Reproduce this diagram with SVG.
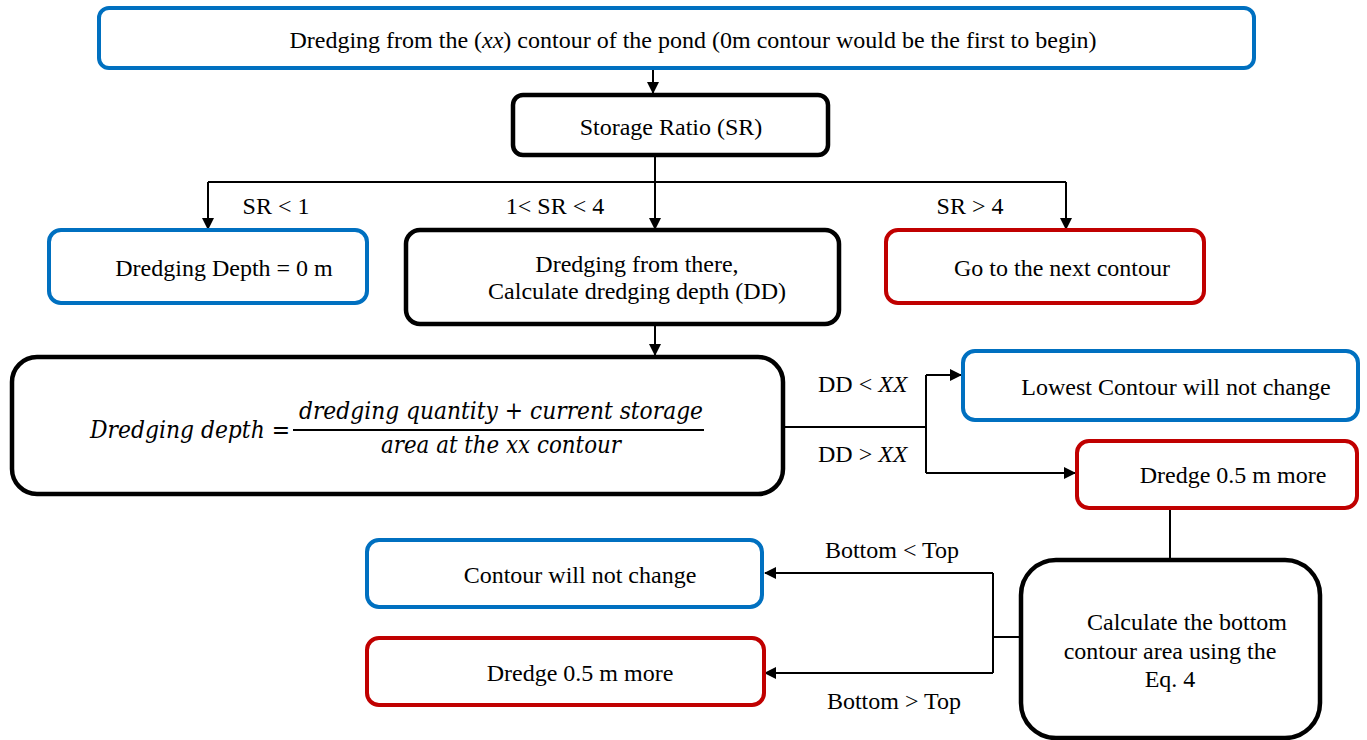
<svg xmlns="http://www.w3.org/2000/svg" width="1367" height="740" viewBox="0 0 1367 740">
<defs>
<marker id="ah" markerWidth="12" markerHeight="12" refX="11" refY="6" orient="auto" markerUnits="userSpaceOnUse">
<path d="M0,0 L12,6 L0,12 Z" fill="#000"/>
</marker>
<style>
.blue{fill:#fff;stroke:#0070C0;stroke-width:4}
.red{fill:#fff;stroke:#C00000;stroke-width:4}
.blk{fill:#fff;stroke:#000;stroke-width:4.5}
.t{font-family:"Liberation Serif","Times New Roman",serif;font-size:24px;fill:#000}
.m{font-family:"DejaVu Serif",serif;font-style:italic;font-size:24px;fill:#000}
.c{fill:none;stroke:#000;stroke-width:2}
.a{fill:none;stroke:#000;stroke-width:2;marker-end:url(#ah)}
</style>
</defs>
<rect width="1367" height="740" fill="#fff"/>
<g id="connectors">
<path class="a" d="M653,68 V93"/>
<path class="c" d="M655,155 V182 M208,182 H1066"/>
<path class="a" d="M208,182 V229"/>
<path class="a" d="M655,182 V229"/>
<path class="a" d="M1066,182 V229"/>
<path class="a" d="M655,324 V355"/>
<path class="c" d="M783,427 H926 M926,375 V473"/>
<path class="a" d="M926,375 H961"/>
<path class="a" d="M926,473 H1075"/>
<path class="c" d="M1170,508 V560"/>
<path class="c" d="M1021,637 H993 M993,573 V673"/>
<path class="a" d="M993,573 H765"/>
<path class="a" d="M993,673 H765"/>
<text class="t" x="276" y="214" text-anchor="middle">SR &lt; 1</text>
<text class="t" x="555" y="214" text-anchor="middle">1&lt; SR &lt; 4</text>
<text class="t" x="970" y="214" text-anchor="middle">SR &gt; 4</text>
<text class="t" x="818" y="392">DD &lt; <tspan font-style="italic">XX</tspan></text>
<text class="t" x="818" y="462">DD &gt; <tspan font-style="italic">XX</tspan></text>
<text class="t" x="892" y="558" text-anchor="middle">Bottom &lt; Top</text>
<text class="t" x="894" y="709" text-anchor="middle">Bottom &gt; Top</text>
</g>
<g id="n-top">
<rect class="blue" x="99" y="8" width="1155" height="60" rx="10"/>
<text class="t" x="693" y="48" text-anchor="middle">Dredging from the (<tspan font-style="italic">xx</tspan>) contour of the pond (0m contour would be the first to begin)</text>
</g>
<g id="n-sr">
<rect class="blk" x="513" y="95" width="315" height="60" rx="10"/>
<text class="t" x="671" y="135" text-anchor="middle">Storage Ratio (SR)</text>
</g>
<g id="n-dd0">
<rect class="blue" x="49" y="230" width="318" height="73" rx="12"/>
<text class="t" x="224" y="276" text-anchor="middle">Dredging Depth = 0 m</text>
</g>
<g id="n-calc">
<rect class="blk" x="406" y="230" width="433" height="94" rx="14"/>
<text class="t" x="637" y="272" text-anchor="middle">Dredging from there,</text>
<text class="t" x="637" y="299" text-anchor="middle">Calculate dredging depth (DD)</text>
</g>
<g id="n-next">
<rect class="red" x="886" y="230" width="318" height="73" rx="12"/>
<text class="t" x="1062" y="276" text-anchor="middle">Go to the next contour</text>
</g>
<g id="n-formula">
<rect class="blk" x="12" y="357" width="771" height="137" rx="25"/>
<text class="m" x="90" y="438" textLength="200" lengthAdjust="spacingAndGlyphs">Dredging depth =</text>
<text class="m" x="299" y="419" textLength="404" lengthAdjust="spacingAndGlyphs">dredging quantity + current storage</text>
<line x1="293" y1="430" x2="704" y2="430" stroke="#000" stroke-width="2"/>
<text class="m" x="381" y="453" textLength="240" lengthAdjust="spacingAndGlyphs">area at the xx contour</text>
</g>
<g id="n-lowest">
<rect class="blue" x="963" y="351" width="395" height="69" rx="12"/>
<text class="t" x="1176" y="395" text-anchor="middle">Lowest Contour will not change</text>
</g>
<g id="n-dredge1">
<rect class="red" x="1077" y="441" width="280" height="67" rx="12"/>
<text class="t" x="1233" y="483" text-anchor="middle">Dredge 0.5 m more</text>
</g>
<g id="n-bottom">
<rect class="blk" x="1021" y="560" width="299" height="178" rx="35"/>
<text class="t" x="1187" y="630" text-anchor="middle">Calculate the bottom</text>
<text class="t" x="1170" y="659" text-anchor="middle">contour area using the</text>
<text class="t" x="1170" y="687" text-anchor="middle">Eq. 4</text>
</g>
<g id="n-nochange">
<rect class="blue" x="367" y="540" width="395" height="67" rx="12"/>
<text class="t" x="580" y="583" text-anchor="middle">Contour will not change</text>
</g>
<g id="n-dredge2">
<rect class="red" x="367" y="638" width="397" height="67" rx="12"/>
<text class="t" x="580" y="681" text-anchor="middle">Dredge 0.5 m more</text>
</g>
</svg>
